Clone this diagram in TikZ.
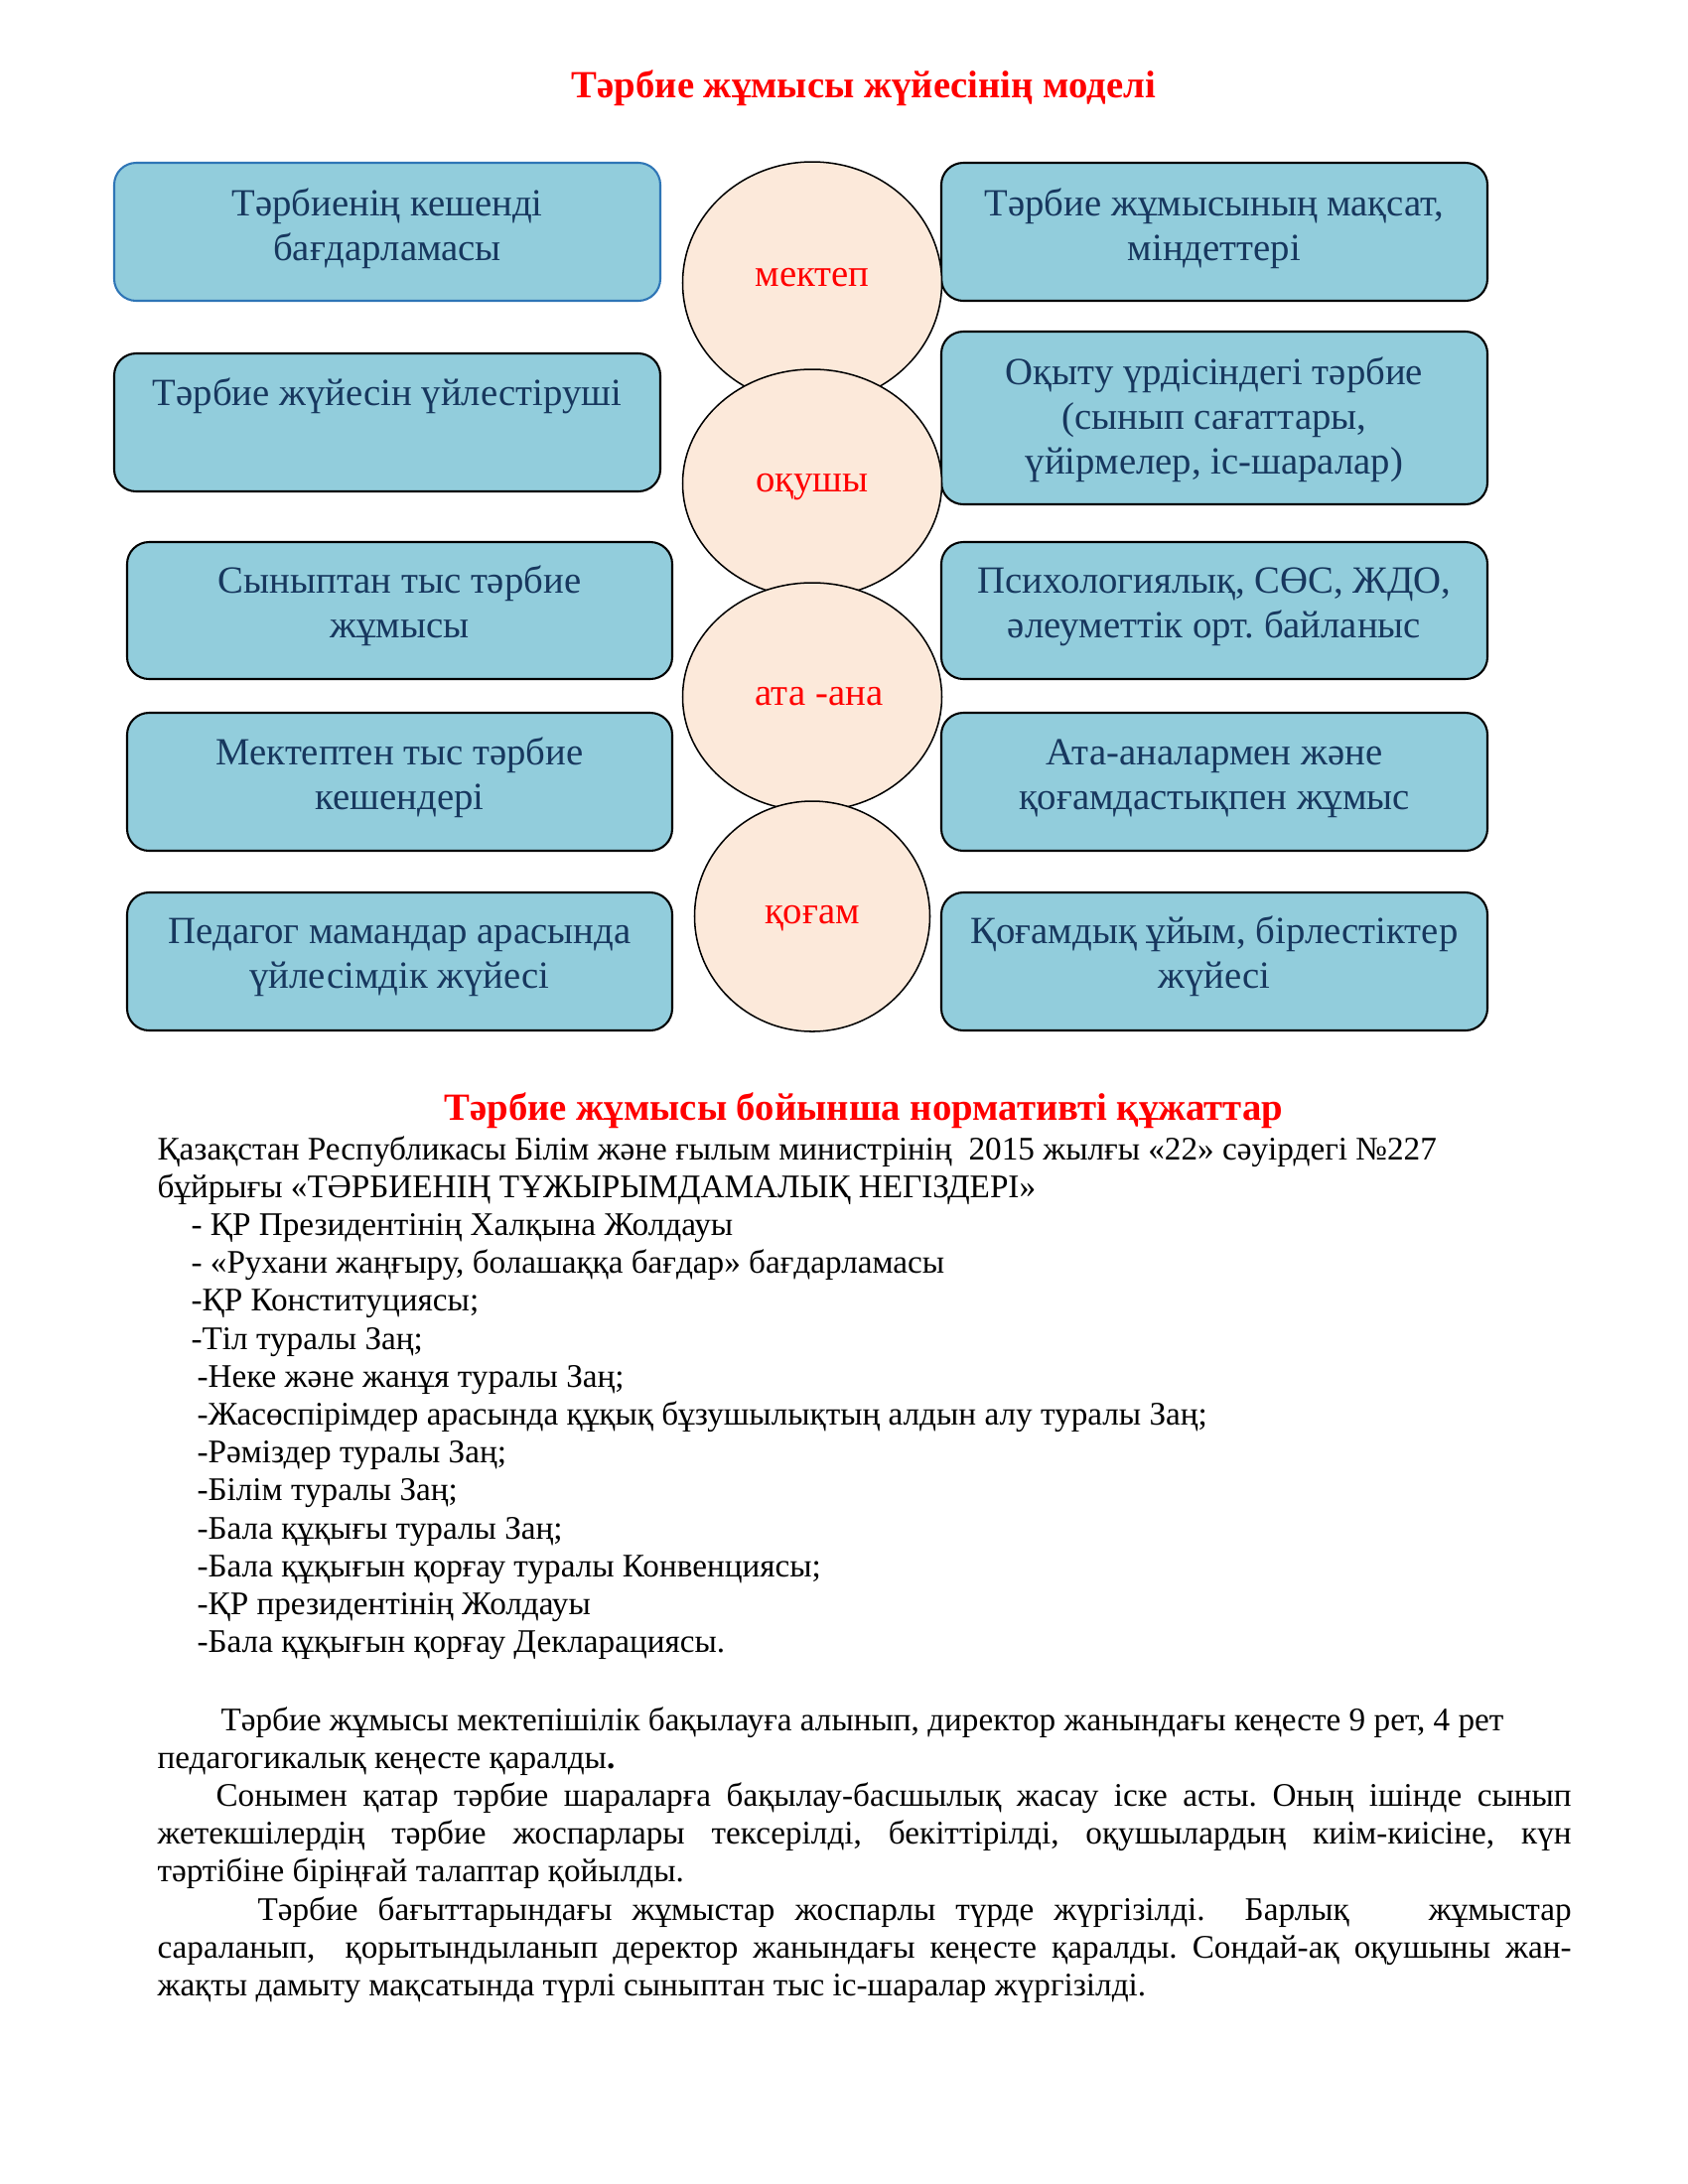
\documentclass[tikz,border=0pt]{standalone}
\usepackage{fontspec}
\setmainfont{Liberation Serif}
\usetikzlibrary{shapes.geometric,calc}
\definecolor{boxfill}{HTML}{92CDDC}
\definecolor{boxtext}{HTML}{17375E}
\definecolor{circfill}{HTML}{FCE9DA}
\definecolor{redt}{HTML}{FF0000}
\definecolor{bluebd}{HTML}{2E75B6}
\newdimen\pxu \pxu=0.36135pt
\frenchspacing
\begin{document}
\frenchspacing
\begin{tikzpicture}[x=0.36135pt, y=-0.36135pt,
  boxst/.style={draw=black, line width=0.75pt, fill=boxfill, rounded corners=8pt, inner sep=0pt},
  btxt/.style={text=boxtext, font=\fontsize{14}{16.2}\selectfont, align=center, anchor=base, inner sep=0pt},
  circst/.style={ellipse, draw=black, line width=0.55pt, fill=circfill, inner sep=0pt},
  ctxt/.style={text=redt, font=\fontsize{14}{16}\selectfont, anchor=base, inner sep=0pt},
  body/.style={font=\fontsize{12}{13.8}\selectfont, anchor=base west, inner sep=0pt},
  ttl/.style={text=redt, font=\bfseries\fontsize{14}{16}\selectfont, anchor=base, inner sep=0pt}]
\useasboundingbox (0,0) rectangle (1700,2200);
\fill[white] (0,0) rectangle (1700,2200);

% title
\node[ttl] (t1) at (870,98) {Тәрбие жұмысы жүйесінің моделі};

% left boxes
\node[boxst, draw=bluebd, minimum width={550*\pxu}, minimum height={139*\pxu}] (L1) at (390,233.5) {};
\node[boxst, minimum width={550*\pxu}, minimum height={139*\pxu}] (L2) at (390,425.5) {};
\node[boxst, minimum width={549*\pxu}, minimum height={138*\pxu}] (L3) at (402.5,615) {};
\node[boxst, minimum width={549*\pxu}, minimum height={139*\pxu}] (L4) at (402.5,787.5) {};
\node[boxst, minimum width={549*\pxu}, minimum height={139*\pxu}] (L5) at (402.5,968.5) {};
% right boxes
\node[boxst, minimum width={550*\pxu}, minimum height={139*\pxu}] (R1) at (1223,233.5) {};
\node[boxst, minimum width={550*\pxu}, minimum height={174*\pxu}] (R2) at (1223,421) {};
\node[boxst, minimum width={550*\pxu}, minimum height={138*\pxu}] (R3) at (1223,615) {};
\node[boxst, minimum width={550*\pxu}, minimum height={139*\pxu}] (R4) at (1223,787.5) {};
\node[boxst, minimum width={550*\pxu}, minimum height={139*\pxu}] (R5) at (1223,968.5) {};

% box texts (anchor = baseline of last line)
\node[btxt] (L1t) at (390,262) {Тәрбиенің кешенді\\бағдарламасы};
\node[btxt] (L2t) at (390,408) {Тәрбие жүйесін үйлестіруші};
\node[btxt] (L3t) at (402.5,642) {Сыныптан тыс тәрбие\\жұмысы};
\node[btxt] (L4t) at (402.5,815) {Мектептен тыс тәрбие\\кешендері};
\node[btxt] (L5t) at (402.5,995) {Педагог мамандар арасында\\үйлесімдік жүйесі};
\node[btxt] (R1t) at (1223,262) {Тәрбие жұмысының мақсат,\\міндеттері};
\node[btxt] (R2t) at (1223,477) {Оқыту үрдісіндегі тәрбие\\(сынып сағаттары,\\үйірмелер, іс-шаралар)};
\node[btxt] (R3t) at (1223,642) {Психологиялық, СӨС, ЖДО,\\әлеуметтік орт. байланыс};
\node[btxt] (R4t) at (1223,815) {Ата-аналармен және\\қоғамдастықпен жұмыс};
\node[btxt] (R5t) at (1223,995) {Қоғамдық ұйым, бірлестіктер\\жүйесі};

% circles
\node[circst, minimum width={261*\pxu}, minimum height={244*\pxu}] (C1) at (818,285) {};
\node[ctxt] (C1t) at (818,288) {мектеп};
\node[circst, minimum width={261*\pxu}, minimum height={230*\pxu}] (C2) at (818,487) {};
\node[ctxt] (C2t) at (818,495) {оқушы};
\node[circst, minimum width={261*\pxu}, minimum height={230*\pxu}] (C3) at (818,702) {};
\node[ctxt] (C3t) at (825,710) {ата -ана};
\node[circst, minimum width={237*\pxu}, minimum height={232*\pxu}] (C4) at (818,923) {};
\node[ctxt] (C4t) at (818,930) {қоғам};

% second title
\node[ttl] (t2) at (870,1128) {Тәрбие жұмысы бойынша нормативті құжаттар};

% list
\node[body] (b0) at (158,1168) {Қазақстан Республикасы Білім және ғылым министрінің\ \ 2015 жылғы «22» сәуірдегі №227};
\node[body] (b1) at (158,1206.2) {бұйрығы «ТӘРБИЕНІҢ ТҰЖЫРЫМДАМАЛЫҚ НЕГІЗДЕРІ»};
\node[body] (b2) at (192,1244.4) {- ҚР Президентінің Халқына Жолдауы};
\node[body] (b3) at (192,1282.6) {- «Рухани жаңғыру, болашаққа бағдар» бағдарламасы};
\node[body] (b4) at (192,1320.8) {-ҚР Конституциясы;};
\node[body] (b5) at (192,1359) {-Тіл туралы Заң;};
\node[body] (b6) at (198,1397.2) {-Неке және жанұя туралы Заң;};
\node[body] (b7) at (198,1435.4) {-Жасөспірімдер арасында құқық бұзушылықтың алдын алу туралы Заң;};
\node[body] (b8) at (198,1473.6) {-Рәміздер туралы Заң;};
\node[body] (b9) at (198,1511.8) {-Білім туралы Заң;};
\node[body] (b10) at (198,1550) {-Бала құқығы туралы Заң;};
\node[body] (b11) at (198,1588.2) {-Бала құқығын қорғау туралы Конвенциясы;};
\node[body] (b12) at (198,1626.4) {-ҚР президентінің Жолдауы};
\node[body] (b13) at (198,1664.6) {-Бала құқығын қорғау Декларациясы.};

% paragraphs
\node[body] (p0) at (222,1743) {Тәрбие жұмысы мектепішілік бақылауға алынып, директор жанындағы кеңесте 9 рет, 4 рет};
\node[body] (p1) at (158,1781.2) {педагогикалық кеңесте қаралды\textbf{.}};
\node[body] (p2) at (217,1819.4) {\makebox[1365\pxu][s]{Сонымен қатар тәрбие шараларға бақылау-басшылық жасау іске асты. Оның ішінде сынып}};
\node[body] (p3) at (158,1857.6) {\makebox[1424\pxu][s]{жетекшілердің тәрбие жоспарлары тексерілді, бекіттірілді, оқушылардың киім-киісіне, күн}};
\node[body] (p4) at (158,1895.8) {тәртібіне біріңғай талаптар қойылды.};
\node[body] (p5) at (259,1934) {\makebox[1323\pxu][s]{Тәрбие бағыттарындағы жұмыстар жоспарлы түрде жүргізілді.\ \ Барлық\ \ \ \ жұмыстар}};
\node[body] (p6) at (158,1972.2) {\makebox[1424\pxu][s]{сараланып,\ \ қорытындыланып деректор жанындағы кеңесте қаралды. Сондай-ақ оқушыны жан-}};
\node[body] (p7) at (158,2010.4) {жақты дамыту мақсатында түрлі сыныптан тыс іс-шаралар жүргізілді.};
\end{tikzpicture}
\end{document}
